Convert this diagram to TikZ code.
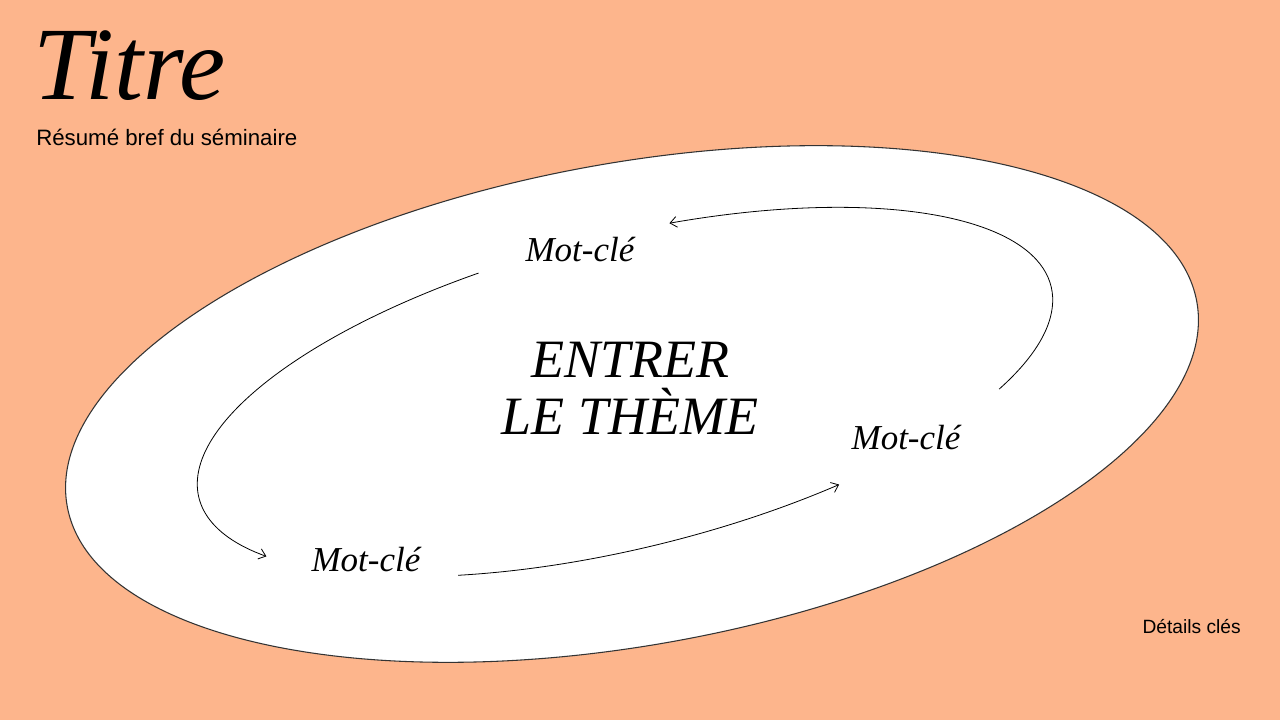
\documentclass[tikz,border=0pt]{standalone}
\usepackage{fontspec}
\setmainfont{Liberation Serif}
\newfontfamily\sansf{Liberation Sans}
\usetikzlibrary{arrows.meta}
\definecolor{bgpeach}{HTML}{FDB58C}
\definecolor{rimgray}{HTML}{333333}
\tikzset{
  serifit/.style={inner sep=0pt, font=\itshape\fontsize{26.25pt}{30pt}\selectfont},
  kwarrow/.style={draw=black, line width=0.6pt, -{Straight Barb[length=5pt,width=8pt,line width=0.6pt]}},
  sanstext/.style={inner sep=0pt, text=black}
}
\begin{document}
\begin{tikzpicture}[x=0.75pt,y=0.75pt]
\useasboundingbox (0,0) rectangle (1280,720);
\fill[bgpeach] (0,0) rectangle (1280,720);
% outer ellipse
\draw[rimgray, line width=0.8pt, fill=white, rotate around={10.27:(632,316)}] (632,316) ellipse [x radius=574, y radius=241];
% title and subtitle
\node[inner sep=0pt, anchor=base west, font=\itshape\fontsize{78pt}{80pt}\selectfont] (title) at (33,620) {Titre};
\node[sanstext, anchor=base west, font=\sansf\fontsize{16.7pt}{18pt}\selectfont] (subtitle) at (36,574.5) {Résumé bref du séminaire};
\node[sanstext, anchor=base east, font=\sansf\fontsize{14.4pt}{16pt}\selectfont] (details) at (1241,86) {Détails clés};
% theme
\node[inner sep=0pt, align=center, anchor=base, font=\itshape\fontsize{40.5pt}{42.75pt}\selectfont] (theme) at (630,285) {ENTRER\\LE THÈME};
% keywords
\node[serifit, anchor=base] (kw1) at (580,458) {Mot-clé};
\node[serifit, anchor=base] (kw2) at (906,270) {Mot-clé};
\node[serifit, anchor=base] (kw3) at (366,148) {Mot-clé};
% cycle arrows along inner ellipse
\begin{scope}[shift={(625,328)}, rotate=13.93]
  \coordinate (s1) at (-34:439 and 156);
  \coordinate (s2) at (105:439 and 156);
  \coordinate (s3) at (242:439 and 156);
  \draw[kwarrow] (s1) arc[start angle=-34, end angle=79, x radius=439, y radius=156];
  \draw[kwarrow] (s2) arc[start angle=105, end angle=208, x radius=439, y radius=156];
  \draw[kwarrow] (s3) arc[start angle=242, end angle=295, x radius=439, y radius=156];
\end{scope}
\end{tikzpicture}
\end{document}
